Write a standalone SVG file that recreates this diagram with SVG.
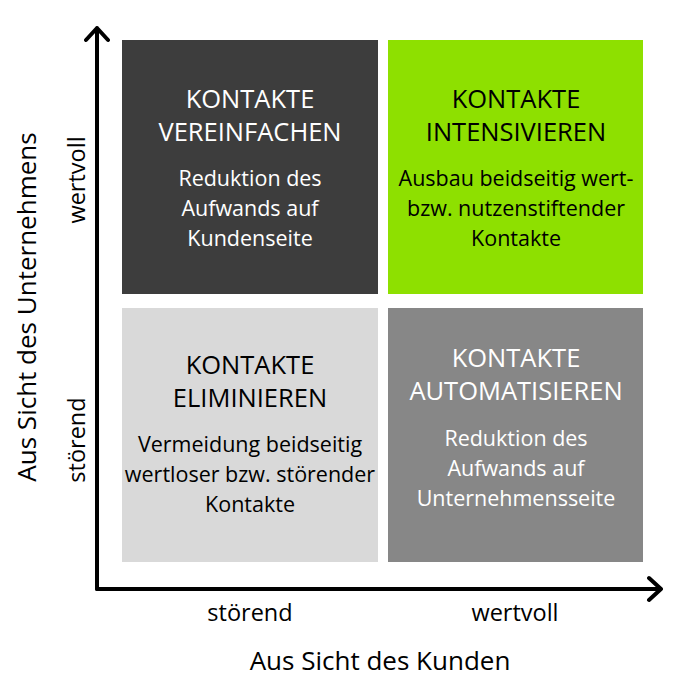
<svg xmlns="http://www.w3.org/2000/svg" width="687" height="699" viewBox="0 0 687 699">
<defs>
<style>
text{font-family:"Open Sans","Liberation Sans",sans-serif;text-anchor:middle}
.t{font-size:25.5px;font-weight:500}
.b{font-size:21.5px}
.ax{font-size:23.5px;fill:#000}
.big{font-size:26px}
.w{fill:#fff}
.k{fill:#000}
.axis{fill:none;stroke:#000;stroke-width:4;stroke-linecap:round;stroke-linejoin:round}
</style>
</defs>
<rect width="687" height="699" fill="#fff"/>
<g id="q-vereinfachen">
<rect x="122" y="40" width="256" height="254" fill="#3d3d3d"/>
<text class="t w" x="250" y="108">KONTAKTE</text>
<text class="t w" x="250" y="141">VEREINFACHEN</text>
<text class="b w" x="250" y="186">Reduktion des</text>
<text class="b w" x="250" y="216">Aufwands auf</text>
<text class="b w" x="250" y="246">Kundenseite</text>
</g>
<g id="q-intensivieren">
<rect x="388" y="40" width="255" height="254" fill="#8ee000"/>
<text class="t k" x="516" y="108">KONTAKTE</text>
<text class="t k" x="516" y="141">INTENSIVIEREN</text>
<text class="b k" x="516" y="186">Ausbau beidseitig wert-</text>
<text class="b k" x="516" y="216">bzw. nutzenstiftender</text>
<text class="b k" x="516" y="246">Kontakte</text>
</g>
<g id="q-eliminieren">
<rect x="122" y="308" width="256" height="254" fill="#d9d9d9"/>
<text class="t k" x="250" y="374">KONTAKTE</text>
<text class="t k" x="250" y="407">ELIMINIEREN</text>
<text class="b k" x="250" y="452">Vermeidung beidseitig</text>
<text class="b k" x="250" y="482">wertloser bzw. störender</text>
<text class="b k" x="250" y="512">Kontakte</text>
</g>
<g id="q-automatisieren">
<rect x="388" y="308" width="255" height="254" fill="#878787"/>
<text class="t w" x="516" y="367">KONTAKTE</text>
<text class="t w" x="516" y="400">AUTOMATISIEREN</text>
<text class="b w" x="516" y="446">Reduktion des</text>
<text class="b w" x="516" y="476">Aufwands auf</text>
<text class="b w" x="516" y="506">Unternehmensseite</text>
</g>
<g id="axes">
<path class="axis" d="M97 589 V28 M86 40 L97 28 L108 40"/>
<path class="axis" d="M97 589 H661 M649 578 L661 589 L649 600"/>
</g>
<g id="labels">
<text class="ax" x="250" y="621">störend</text>
<text class="ax" x="515" y="621">wertvoll</text>
<text class="ax big" x="380" y="670">Aus Sicht des Kunden</text>
<text class="ax big" transform="translate(36 307) rotate(-90)">Aus Sicht des Unternehmens</text>
<text class="ax" transform="translate(85 180) rotate(-90)">wertvoll</text>
<text class="ax" transform="translate(85 440) rotate(-90)">störend</text>
</g>
</svg>
